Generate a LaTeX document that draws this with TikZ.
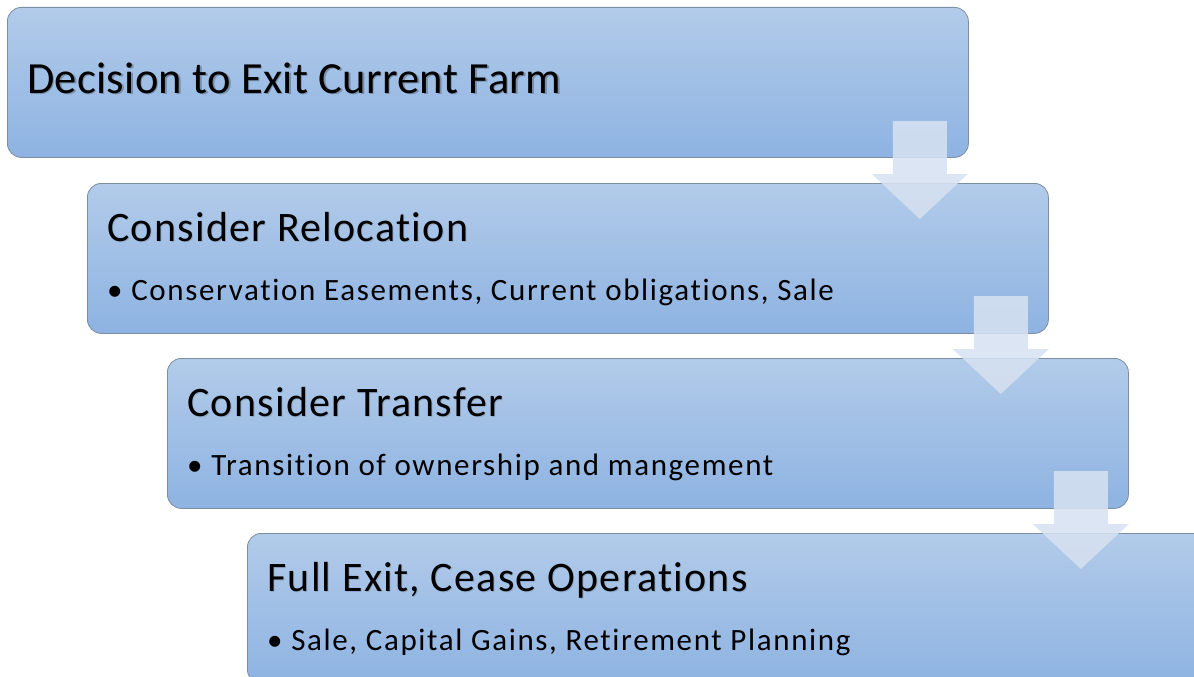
\documentclass[tikz,border=0pt]{standalone}
\usepackage{fontspec}
\setmainfont{Carlito}[Ligatures=NoCommon]
\newfontfamily\topfont{Carlito}[Ligatures=NoCommon, LetterSpace=0.7]
\newfontfamily\headfont{Carlito}[Ligatures=NoCommon, LetterSpace=3]
\newfontfamily\itemfont{Carlito}[Ligatures=NoCommon, LetterSpace=5.3]
\definecolor{boxtop}{HTML}{B2CBE9}
\definecolor{boxbot}{HTML}{8EB3E2}
\definecolor{boxline}{HTML}{7C8EA3}
\definecolor{arrowfill}{HTML}{D6E1F1}
\begin{document}
\begin{tikzpicture}[x=1pt,y=-1pt,
  stage/.style={draw=boxline, line width=0.8pt, rounded corners=14pt,
    top color=boxtop, bottom color=boxbot, anchor=north west,
    minimum width=961pt, minimum height=150pt, inner sep=0pt},
  headline/.style={anchor=base west, inner sep=0pt, font=\headfont\fontsize{42}{50}\selectfont},
  bigheadline/.style={anchor=base west, inner sep=0pt, font=\topfont\fontsize{44.5}{52}\selectfont},
  bullet/.style={anchor=base west, inner sep=0pt, font=\itemfont\fontsize{31}{36}\selectfont},
  textshadow/.style={text=black, opacity=0.25},
  flowarrow/.pic={\fill[arrowfill, opacity=0.88]
    (-27,0) -- (27,0) -- (27,53) -- (48,53) -- (0,98) -- (-48,53) -- (-27,53) -- cycle;}
]
\useasboundingbox (0,0) rectangle (1194,677);
\clip (0,0) rectangle (1194,677);

% the four stages, stepping down to the right
\node[stage] (s1) at (7,7) {};
\node[stage] (s2) at (87,183) {};
\node[stage] (s3) at (167,358) {};
\node[stage] (s4) at (247,533) {};

% headings (with a soft drop shadow) and bullet lines
\path (s1.north west) ++(21.5,87.5) node[bigheadline, textshadow] {Decision to Exit Current Farm};
\path (s1.north west) ++(20,86) node[bigheadline] (t1) {Decision to Exit Current Farm};

\path (s2.north west) ++(21,59) node[headline, textshadow, opacity=0.12] {Consider Relocation};
\path (s2.north west) ++(20,58) node[headline] (t2) {Consider Relocation};
\path (s2.north west) ++(20,117) node[bullet] (b2) {\textbullet\ Conservation Easements, Current obligations, Sale};

\path (s3.north west) ++(21,59) node[headline, textshadow, opacity=0.12] {Consider Transfer};
\path (s3.north west) ++(20,58) node[headline] (t3) {Consider Transfer};
\path (s3.north west) ++(20,117) node[bullet] (b3) {\textbullet\ Transition of ownership and mangement};

\path (s4.north west) ++(21,59) node[headline, textshadow, opacity=0.12] {Full Exit, Cease Operations};
\path (s4.north west) ++(20,58) node[headline] (t4) {Full Exit, Cease Operations};
\path (s4.north west) ++(20,117) node[bullet] (b4) {\textbullet\ Sale, Capital Gains, Retirement Planning};

% translucent block arrows linking each stage to the next
\path (s1.north east) ++(-49,114) pic {flowarrow};
\path (s2.north east) ++(-48,113) pic {flowarrow};
\path (s3.north east) ++(-48,113) pic {flowarrow};
\end{tikzpicture}
\end{document}
